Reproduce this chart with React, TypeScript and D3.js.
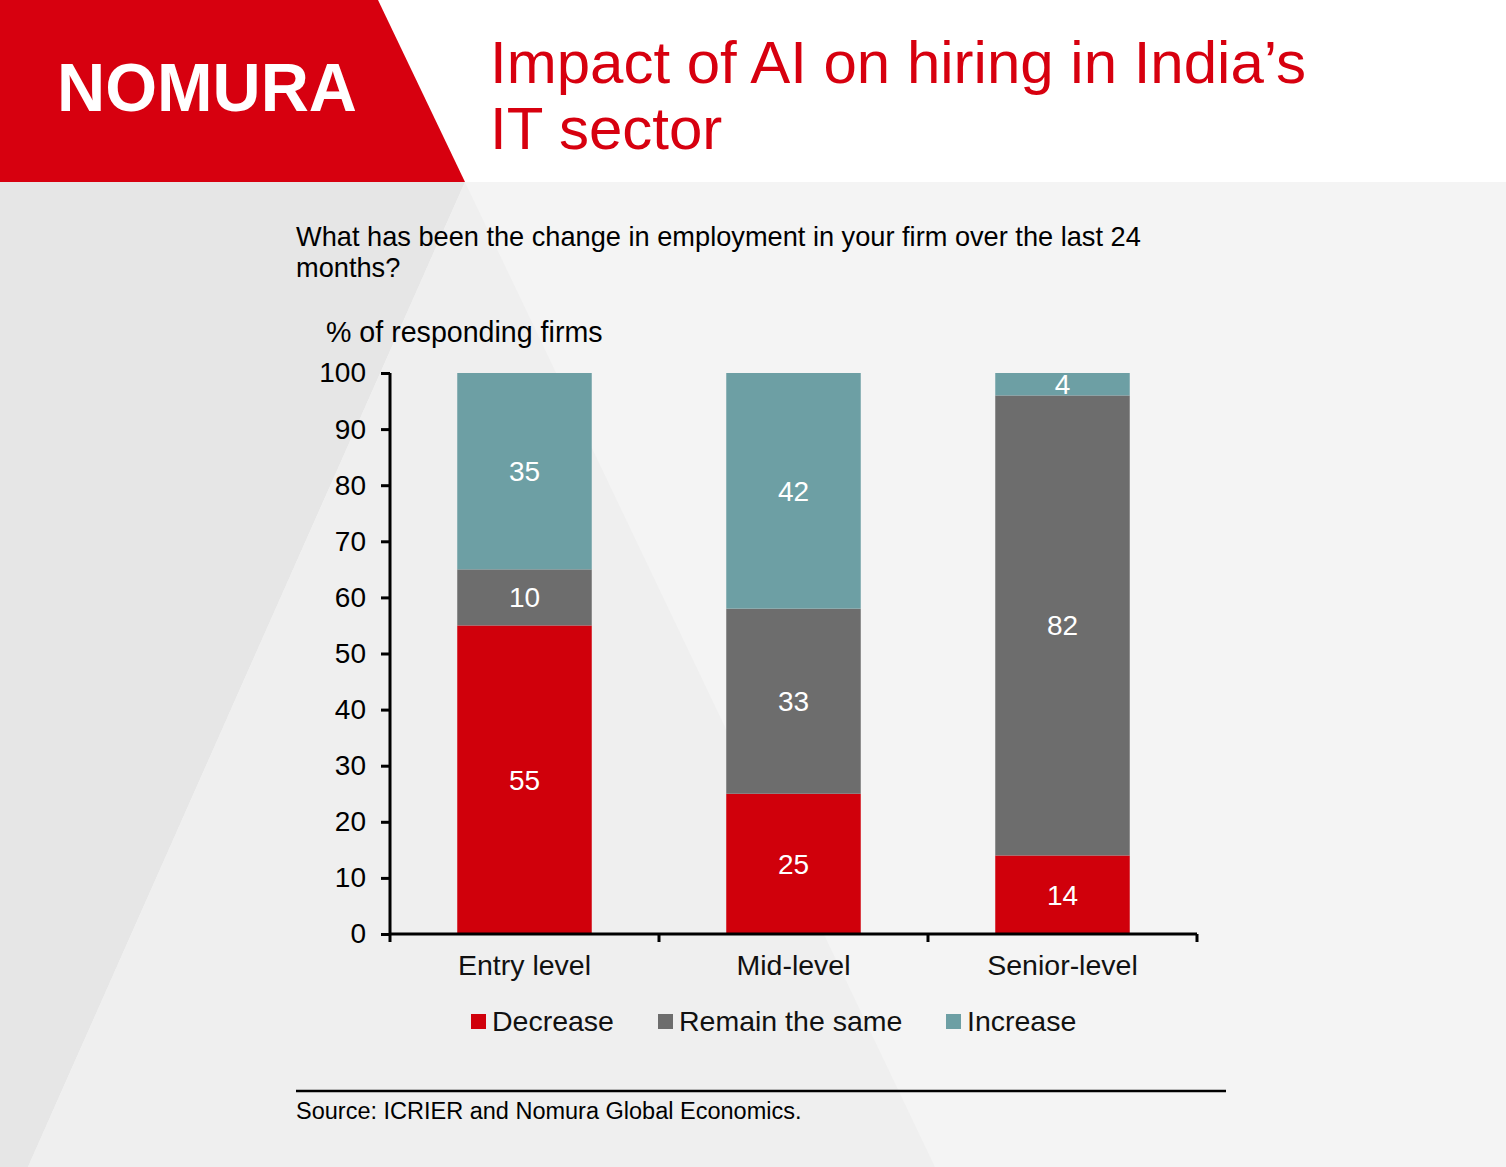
import * as d3 from "d3";
import { useRef, useEffect } from "react";

const categories = ["Entry level", "Mid-level", "Senior-level"];
const seriesNames = ["Decrease", "Remain the same", "Increase"];
const decrease = [55, 25, 14];
const remainSame = [10, 33, 82];
const increase = [35, 42, 4];
const yTicks = [0, 10, 20, 30, 40, 50, 60, 70, 80, 90, 100];

const colors = ["#d0000b", "#6d6d6d", "#6d9fa4"];
const FONT = "'Liberation Sans', Arial, sans-serif";

const width = 1506;
const height = 1167;
const marginLeft = 390;
const plotRight = 1197;
const plotTop = 373;
const plotBottom = 934;

export default function App() {
  const gx = useRef<SVGGElement | null>(null);
  const gy = useRef<SVGGElement | null>(null);

  const x = d3
    .scaleBand()
    .domain(categories)
    .range([marginLeft, plotRight])
    .paddingInner(0.5)
    .paddingOuter(0.25);

  const y = d3.scaleLinear().domain([0, 100]).range([plotBottom, plotTop]);

  const rows = categories.map((c, i) => ({
    category: c,
    Decrease: decrease[i],
    "Remain the same": remainSame[i],
    Increase: increase[i],
  }));
  const stacked = d3.stack<any>().keys(seriesNames)(rows);

  useEffect(() => {
    if (gy.current) {
      const g = d3.select(gy.current);
      g.selectAll("*").remove();
      g.call(d3.axisLeft(y).tickValues(yTicks).tickSize(9).tickPadding(15));
      g.select(".domain").attr("stroke-width", 3).attr("d", `M0,${plotTop}V${plotBottom}`);
      g.selectAll(".tick line").attr("stroke-width", 3);
      g.selectAll(".tick text")
        .attr("font-size", 28)
        .attr("font-family", FONT)
        .attr("fill", "#000");
    }
  }, []);

  useEffect(() => {
    if (gx.current) {
      const g = d3.select(gx.current);
      g.selectAll("*").remove();
      g.append("path")
        .attr("d", `M${marginLeft},0H${plotRight}`)
        .attr("stroke", "#000")
        .attr("stroke-width", 3);
      const step = x.step();
      const bounds = d3.range(categories.length + 1).map((i) => marginLeft + i * step);
      g.selectAll("line.tk")
        .data(bounds)
        .join("line")
        .attr("class", "tk")
        .attr("x1", (d) => d)
        .attr("x2", (d) => d)
        .attr("y1", 0)
        .attr("y2", 8)
        .attr("stroke", "#000")
        .attr("stroke-width", 3);
      g.selectAll("text.cat")
        .data(categories)
        .join("text")
        .attr("class", "cat")
        .attr("x", (d) => (x(d) || 0) + x.bandwidth() / 2)
        .attr("y", 41)
        .attr("text-anchor", "middle")
        .attr("font-size", 28.5)
        .attr("font-family", FONT)
        .attr("fill", "#111")
        .text((d) => d);
    }
  }, []);

  const legendX = [471, 658, 946];

  return (
    <svg
      width={width}
      height={height}
      style={{ position: "absolute", left: 0, top: 0 }}
      fontFamily={FONT}
    >
      {/* background */}
      <rect x={0} y={0} width={width} height={height} fill="#f4f4f4" />
      <polygon points="0,182 465,182 28,1167 0,1167" fill="#e6e6e6" />
      <polygon points="465,182 935,1167 28,1167" fill="#efefef" />
      <rect x={0} y={0} width={width} height={182} fill="#ffffff" />
      <polygon points="0,0 378,0 465,182 0,182" fill="#d7000f" />
      <text
        x={57}
        y={111}
        fill="#fff"
        fontSize={68}
        fontWeight="bold"
        textLength={300}
        lengthAdjust="spacingAndGlyphs"
      >
        NOMURA
      </text>
      <text x={490} y={83} fill="#d7000f" fontSize={60}>
        Impact of AI on hiring in India’s
      </text>
      <text x={490} y={149} fill="#d7000f" fontSize={60}>
        IT sector
      </text>

      <text x={296} y={246} fontSize={27.2} fill="#000">
        What has been the change in employment in your firm over the last 24
      </text>
      <text x={296} y={277} fontSize={27.2} fill="#000">
        months?
      </text>
      <text x={326} y={342} fontSize={28.6} fill="#000">
        % of responding firms
      </text>

      {stacked.map((s, si) => (
        <g key={s.key} fill={colors[si]}>
          {s.map((d, i) => (
            <rect
              key={i}
              x={x(categories[i]) || 0}
              y={y(d[1])}
              width={x.bandwidth()}
              height={y(d[0]) - y(d[1])}
            />
          ))}
        </g>
      ))}
      {stacked.map((s) =>
        s.map((d, i) => (
          <text
            key={s.key + i}
            x={(x(categories[i]) || 0) + x.bandwidth() / 2}
            y={y((d[0] + d[1]) / 2)}
            dy="0.35em"
            textAnchor="middle"
            fontSize={28}
            fill="#fff"
          >
            {d[1] - d[0]}
          </text>
        ))
      )}

      <g ref={gy} transform={`translate(${marginLeft},0)`} />
      <g ref={gx} transform={`translate(0,${plotBottom})`} />

      {seriesNames.map((n, i) => (
        <g key={n} transform={`translate(${legendX[i]},1014)`}>
          <rect x={0} y={0} width={15} height={15} fill={colors[i]} />
          <text x={21} y={17} fontSize={28.5} fill="#111">
            {n}
          </text>
        </g>
      ))}

      <line x1={296} x2={1226} y1={1091} y2={1091} stroke="#000" strokeWidth={2.5} />
      <text x={296} y={1119} fontSize={23.5} fill="#000">
        Source: ICRIER and Nomura Global Economics.
      </text>
    </svg>
  );
}
